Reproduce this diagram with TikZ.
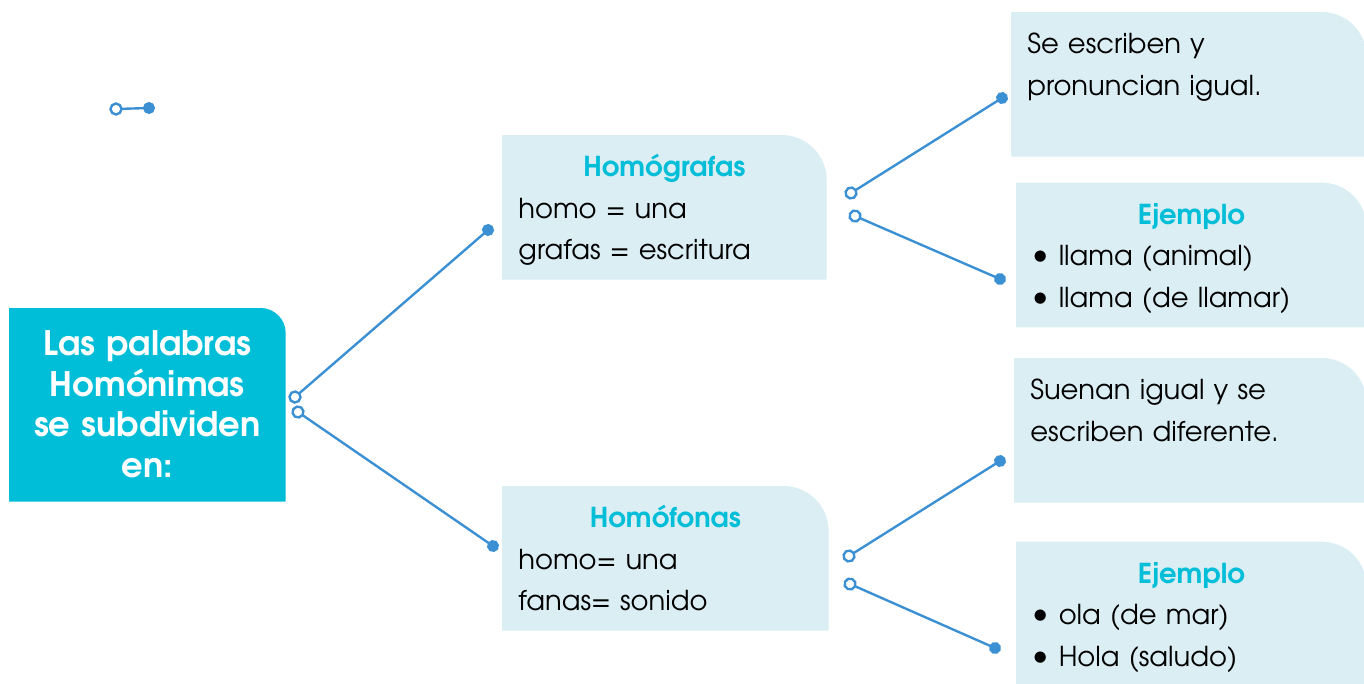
\documentclass[tikz,border=0pt]{standalone}
\usepackage{fontspec}
\setmainfont{TeX Gyre Adventor}
\definecolor{hmCyan}{HTML}{00BDD8}
\definecolor{hmPale}{HTML}{DAEEF3}
\definecolor{hmLine}{HTML}{3B8FD3}
\usetikzlibrary{arrows.meta, positioning, backgrounds}
\newcommand\cardtitle[1]{{\centering\bfseries\color{hmCyan}#1\par}}
\newcommand\dotitem{\raisebox{0.1ex}{\scalebox{1.15}{\textbullet}}\hspace{0.2cm}}

\begin{document}
\begin{tikzpicture}[x=0.02cm, y=-0.02cm,
  node distance=0.52cm and 0.2cm,
  every node/.style={font=\fontsize{15.6}{23.8}\selectfont, inner ysep=0pt},
  card/.style={anchor=north west, inner xsep=0.32cm, align=left,
               text height=0.82cm, text depth=2.06cm},
  lead/.style={anchor=north west, inner xsep=0.1cm, align=center,
               text width=5.32cm, text height=0.94cm, text depth=2.92cm,
               font=\fontsize{19.2}{23.2}\selectfont\bfseries, text=white},
  link/.style={{Circle[open, fill=white, length=7.6pt]}-{Circle[length=6.8pt]},
               line width=1.35pt, color=hmLine,
               shorten <=-3.8pt, shorten >=-3.4pt}
]
  \useasboundingbox (0,0) rectangle (1364,683);

  \node[lead] (main) at (9,308) {Las palabras\\Homónimas\\se subdividen\\en:};

  \node[card, text width=5.84cm] (graf) at (502,135)
    {\cardtitle{Homógrafas}homo = una\\grafas = escritura};
  \node[card, text width=5.88cm] (fon) at (502,486)
    {\cardtitle{Homófonas}homo= una\\fanas= sonido};

  \node[card, text width=6.46cm] (d1) at (1011,12) {Se escriben y\\pronuncian igual.};
  \node[card, text width=6.36cm, below=0.52cm of d1.south west, anchor=north west,
        xshift=0.1cm] (e1)
    {\cardtitle{Ejemplo}\dotitem llama (animal)\\
     \dotitem llama (de llamar)};
  \node[card, text width=6.4cm] (d2) at (1014,358) {Suenan igual y se\\escriben diferente.};
  \node[card, text width=6.36cm, below=0.78cm of d2.south west, anchor=north west,
        xshift=0.04cm] (e2)
    {\cardtitle{Ejemplo}\dotitem ola (de mar)\\
     \dotitem Hola (saludo)};

  % tabs with one rounded corner
  \begin{scope}[on background layer]
    \fill[hmCyan] (main.south west) |- ([xshift=-0.5cm]main.north east)
      arc[start angle=90, end angle=0, radius=0.5cm] -- (main.south east) -- cycle;
    \foreach \n in {graf, fon, d1, e1, d2, e2}
      \fill[hmPale] (\n.south west) |- ([xshift=-0.9cm]\n.north east)
        arc[start angle=90, end angle=0, radius=0.9cm] -- (\n.south east) -- cycle;
  \end{scope}

  % connector ends
  \coordinate (main-up) at (295,397);
  \coordinate (main-dn) at (298,412);
  \coordinate (graf-in) at (488,230);
  \coordinate (fon-in)  at (493,546);
  \coordinate (graf-up) at (851,193);
  \coordinate (graf-dn) at (855,216);
  \coordinate (d1-in)   at (1002,98);
  \coordinate (e1-in)   at (1000,279);
  \coordinate (fon-up)  at (849,556);
  \coordinate (fon-dn)  at (850,584);
  \coordinate (d2-in)   at (1000,461);
  \coordinate (e2-in)   at (995,648);
  \coordinate (loose-a) at (116,109);
  \coordinate (loose-b) at (149,108);

  \draw[link] (main-up) -- (graf-in);
  \draw[link] (main-dn) -- (fon-in);
  \draw[link] (graf-up) -- (d1-in);
  \draw[link] (graf-dn) -- (e1-in);
  \draw[link] (fon-up)  -- (d2-in);
  \draw[link] (fon-dn)  -- (e2-in);
  \draw[link] (loose-a) -- (loose-b);
\end{tikzpicture}
\end{document}
